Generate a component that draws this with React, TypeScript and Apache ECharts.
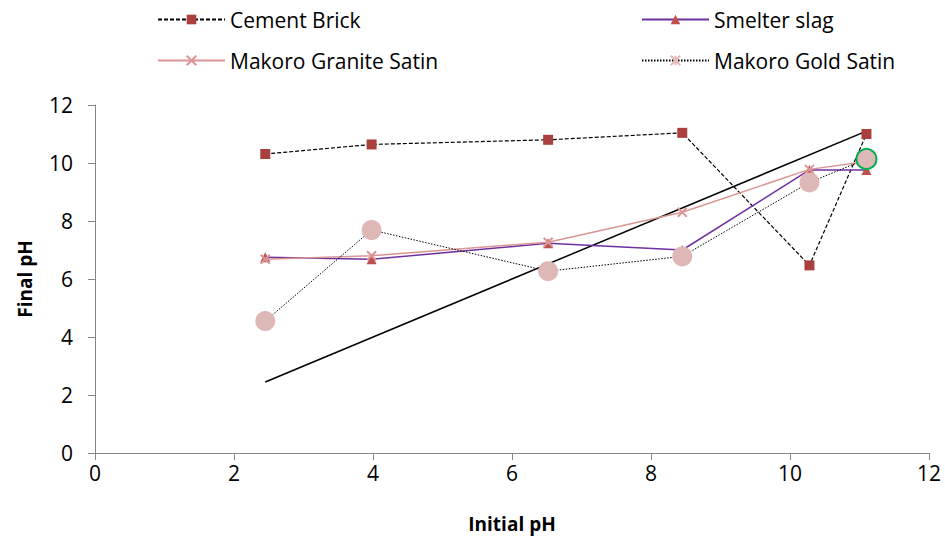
import React, { useEffect, useRef } from "react";
import * as echarts from "echarts";

const initialPH = [2.45, 3.98, 6.52, 8.45, 10.28, 11.1];
const cementBrick = [10.31, 10.64, 10.8, 11.04, 6.47, 11.0];
const smelterSlag = [6.75, 6.68, 7.23, 7.0, 9.76, 9.76];
const graniteSatin = [6.68, 6.8, 7.27, 8.3, 9.78, 10.05];
const goldSatin = [4.55, 7.69, 6.27, 6.78, 9.33, 10.14];
const parityLine = [
  [2.45, 2.45],
  [11.1, 11.1],
];

const FONT = "'Open Sans', 'Noto Sans', sans-serif";
const CROSS = "path://M0,0L10,10M10,0L0,10";
const ASTERISK = "path://M0,0L10,10M10,0L0,10M5,0L5,10";

const pairs = (ys: number[]) => initialPH.map((x, i) => [x, ys[i]]);

export default function App() {
  const ref = useRef<HTMLDivElement>(null);

  useEffect(() => {
    if (!ref.current) return;
    const chart = echarts.init(ref.current, null, { renderer: "svg" });

    const legendBase = {
      orient: "horizontal" as const,
      itemWidth: 67,
      itemHeight: 12,
      itemGap: 6,
      textStyle: { fontFamily: FONT, fontSize: 21, color: "#000" },
      selectedMode: false,
    };

    const goldData = pairs(goldSatin).map((p, i) =>
      i === goldSatin.length - 1
        ? { value: p, itemStyle: { borderColor: "#00B050", borderWidth: 2 } }
        : { value: p }
    );

    const goldLine = { color: "#000", width: 1, type: [1.5, 1.5] };

    const axisCommon = {
      type: "value" as const,
      min: 0,
      max: 12,
      interval: 2,
      nameLocation: "middle" as const,
      nameTextStyle: { fontFamily: FONT, fontSize: 19, fontWeight: "bold", color: "#000" },
      axisLine: { show: true, lineStyle: { color: "#868686", width: 1 } },
      axisTick: { show: true, length: 7, lineStyle: { color: "#868686" } },
      splitLine: { show: false },
    };

    chart.setOption({
      animation: false,
      backgroundColor: "#fff",
      legend: [
        { ...legendBase, left: 152, top: 4, data: ["Cement Brick"] },
        { ...legendBase, left: 636, top: 4, data: ["Smelter slag"] },
        { ...legendBase, left: 152, top: 45, data: ["Makoro Granite Satin"] },
        { ...legendBase, left: 636, top: 45, data: ["Makoro Gold Satin"] },
      ],
      grid: { left: 95, right: 16, top: 105, bottom: 90, containLabel: false },
      xAxis: {
        ...axisCommon,
        name: "Initial pH",
        nameGap: 61,
        axisLabel: { fontFamily: FONT, fontSize: 21, color: "#000", margin: 9 },
      },
      yAxis: {
        ...axisCommon,
        name: "Final pH",
        nameGap: 61,
        axisLabel: { fontFamily: FONT, fontSize: 21, color: "#000", margin: 22 },
      },
      series: [
        {
          // key entry for the Gold Satin legend: asterisk marker on a dotted line
          name: "Makoro Gold Satin",
          type: "line",
          data: [],
          symbol: ASTERISK,
          symbolSize: 9,
          itemStyle: { color: "#E6B9B8", borderColor: "#E6B9B8", borderWidth: 1.5 },
          lineStyle: goldLine,
        },
        {
          name: "parity",
          type: "line",
          data: parityLine,
          symbol: "none",
          lineStyle: { color: "#000", width: 1.5 },
          silent: true,
          z: 1,
        },
        {
          name: "Cement Brick",
          type: "line",
          data: pairs(cementBrick),
          symbol: "rect",
          symbolSize: 10,
          itemStyle: { color: "#A9403D" },
          lineStyle: { color: "#000", width: 1.2, type: [4, 2] },
          z: 3,
        },
        {
          name: "Smelter slag",
          type: "line",
          data: pairs(smelterSlag),
          symbol: "triangle",
          symbolSize: 10,
          itemStyle: { color: "#C0504D" },
          lineStyle: { color: "#7030A0", width: 1.5 },
          z: 3,
        },
        {
          name: "Makoro Granite Satin",
          type: "line",
          data: pairs(graniteSatin),
          symbol: CROSS,
          symbolSize: 9,
          itemStyle: { color: "#D99694", borderColor: "#D99694", borderWidth: 2 },
          lineStyle: { color: "#D99694", width: 1.5 },
          z: 4,
        },
        {
          name: "Makoro Gold Satin",
          type: "line",
          data: goldData,
          symbol: "circle",
          symbolSize: 20,
          itemStyle: { color: "#DDB8B7" },
          lineStyle: goldLine,
          z: 5,
        },
      ],
    });

    return () => chart.dispose();
  }, []);

  return (
    <div
      ref={ref}
      style={{ position: "fixed", left: 0, top: 0, width: 945, height: 543 }}
    />
  );
}
